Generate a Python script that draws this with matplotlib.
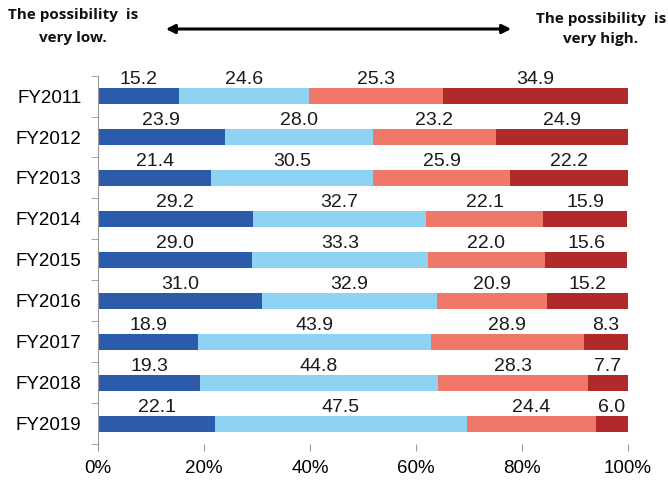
import numpy as np
import matplotlib
matplotlib.use("Agg")
from matplotlib import pyplot as plt
from matplotlib.patches import FancyArrowPatch

years = ['FY2011', 'FY2012', 'FY2013', 'FY2014', 'FY2015',
         'FY2016', 'FY2017', 'FY2018', 'FY2019']
very_low = [15.2, 23.9, 21.4, 29.2, 29.0, 31.0, 18.9, 19.3, 22.1]
low = [24.6, 28.0, 30.5, 32.7, 33.3, 32.9, 43.9, 44.8, 47.5]
high = [25.3, 23.2, 25.9, 22.1, 22.0, 20.9, 28.9, 28.3, 24.4]
very_high = [34.9, 24.9, 22.2, 15.9, 15.6, 15.2, 8.3, 7.7, 6.0]

colors = ['#2B5BAA', '#8ED4F2', '#F07868', '#B2292B']

plt.rcParams['font.family'] = ['Liberation Sans', 'DejaVu Sans']

fig = plt.figure(figsize=(6.68, 4.8), dpi=100)
ax = fig.add_axes([0.1467, 0.074, 0.7933, 0.7687])

y = np.arange(len(years))
left = np.zeros(len(years))
for vals, col in zip([very_low, low, high, very_high], colors):
    vals = np.array(vals)
    ax.barh(y, vals, left=left, height=0.39, color=col)
    for yi, l, v in zip(y, left, vals):
        ax.text(l + v / 2, yi - 0.29, '{0:.1f}'.format(v), ha='center', va='baseline',
                fontsize=14, color='#1a1a1a')
    left = left + vals

ax.set_xlim(0, 100)
ax.set_ylim(len(years) - 0.5, -0.5)
ax.set_yticks(y)
ax.set_yticklabels(years, fontsize=13.5)
ax.set_yticks(np.arange(len(years) + 1) - 0.5, minor=True)
ax.tick_params(axis='y', which='major', length=0, pad=12)
ax.tick_params(axis='y', which='minor', length=5, color='#999999', direction='out')
ax.set_xticks(np.arange(0, 101, 20))
ax.set_xticklabels(['{0}%'.format(v) for v in range(0, 101, 20)], fontsize=13.5)
ax.tick_params(axis='x', length=5, color='#999999', direction='out', pad=6)
for s in ['top', 'right', 'bottom']:
    ax.spines[s].set_visible(False)
ax.spines['left'].set_color('#999999')

# header
hdr = dict(ha='center', va='baseline', fontsize=11, fontweight='bold',
           family=['Open Sans', 'DejaVu Sans'], color='#111111')
fig.text(73 / 668, 1 - 19 / 480, 'The possibility  is', **hdr)
fig.text(73 / 668, 1 - 42 / 480, 'very low.', **hdr)
fig.text(601 / 668, 1 - 23 / 480, 'The possibility  is', **hdr)
fig.text(601 / 668, 1 - 43 / 480, 'very high.', **hdr)
fig.add_artist(FancyArrowPatch((163 / 668, 1 - 29 / 480), (514 / 668, 1 - 29 / 480),
                               transform=fig.transFigure, arrowstyle='<|-|>',
                               mutation_scale=13, color='black', lw=2.2))

plt.savefig('out.png', dpi=100)
